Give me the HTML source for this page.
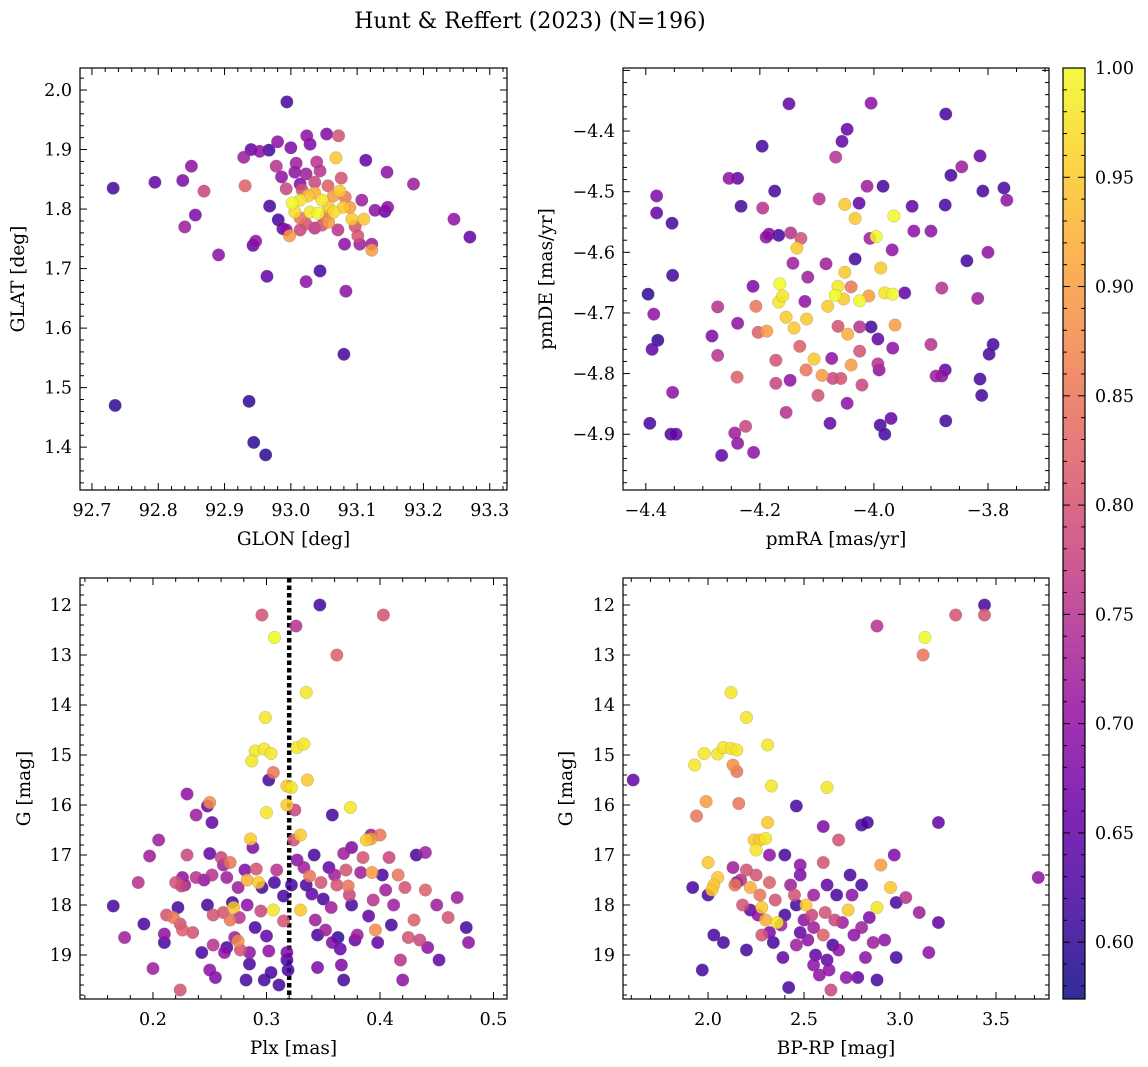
<!DOCTYPE html>
<html><head><meta charset="utf-8">
<style>
html,body{margin:0;padding:0;background:#fff;}
svg{display:block;font-family:"DejaVu Serif","Liberation Serif",serif;}
</style></head>
<body>
<svg id="fig" width="1148" height="1067" viewBox="0 0 1148 1067" xmlns="http://www.w3.org/2000/svg">
<text x="530" y="28" font-size="22" text-anchor="middle">Hunt &amp; Reffert (2023) (N=196)</text>
</svg>
<script>
// ---------- DATA ----------
const glonVals=[92.735,92.937,92.944,92.962,93.080,92.994,92.732,92.795,92.837,92.850,92.856,92.840,92.869,92.891,92.929,92.940,92.953,92.967,92.980,93.000,93.024,93.029,93.054,93.072,93.068,93.039,93.113,93.145,93.185,93.246,93.270,92.931,92.947,92.943,92.964,93.023,93.044,93.083,93.081,93.104,93.122,93.122,93.101,92.968,92.988,92.998,93.110,93.092,93.127,93.142,93.146,93.107,92.978,92.986,93.008,92.993,93.014,93.044,93.076,93.064,93.074,93.002,93.014,93.026,93.036,93.047,93.057,93.029,93.041,93.053,93.065,93.079,93.014,93.023,93.036,93.047,93.057,93.006,93.017,93.089,93.082,93.071,93.014,92.993,92.981,93.097,93.056,93.036,93.023,93.006];
const glatVals=[1.470,1.477,1.408,1.387,1.556,1.980,1.835,1.845,1.848,1.872,1.790,1.770,1.830,1.723,1.887,1.900,1.897,1.899,1.913,1.903,1.923,1.909,1.926,1.923,1.886,1.879,1.882,1.862,1.842,1.783,1.753,1.839,1.746,1.739,1.687,1.678,1.696,1.662,1.741,1.741,1.741,1.731,1.755,1.805,1.767,1.755,1.783,1.783,1.798,1.796,1.803,1.815,1.872,1.854,1.877,1.834,1.842,1.864,1.852,1.822,1.830,1.810,1.815,1.822,1.827,1.815,1.803,1.795,1.793,1.788,1.795,1.803,1.785,1.775,1.768,1.773,1.778,1.795,1.832,1.803,1.820,1.765,1.765,1.765,1.782,1.771,1.839,1.845,1.859,1.862];
const prob1=[.60,.60,.60,.60,.62,.62,.62,.65,.68,.70,.68,.72,.78,.70,.72,.65,.70,.62,.70,.68,.70,.68,.68,.80,.95,.75,.65,.70,.72,.70,.65,.82,.70,.65,.65,.70,.62,.70,.70,.72,.72,.90,.80,.62,.65,.90,.95,.95,.70,.65,.70,.72,.75,.70,.72,.78,.68,.75,.80,.90,.95,1.0,.98,.95,.92,.98,.95,.98,1.0,.85,.97,.95,.85,.80,.75,.80,.90,.97,.80,.90,.85,.75,.78,.70,.62,.80,.82,.78,.72,.70];

const pmraVals=[-4.379,-4.396,-4.393,-4.389,-4.386,-4.381,-4.381,-4.354,-4.353,-4.353,-4.356,-4.347,-4.284,-4.274,-4.274,-4.267,-4.254,-4.239,-4.244,-4.239,-4.225,-4.211,-4.240,-4.239,-4.233,-4.196,-4.149,-4.174,-4.195,-4.189,-4.184,-4.167,-4.212,-4.207,-4.203,-4.188,-4.167,-4.165,-4.160,-4.172,-4.172,-4.154,-4.147,-4.154,-4.140,-4.146,-4.135,-4.142,-4.128,-4.116,-4.121,-4.130,-4.119,-4.118,-4.096,-4.084,-4.074,-4.072,-4.077,-4.091,-4.105,-4.098,-4.081,-4.068,-4.063,-4.067,-4.056,-4.047,-4.051,-4.033,-4.026,-4.033,-4.051,-4.040,-4.053,-4.063,-4.046,-4.040,-4.058,-4.047,-4.021,-4.025,-4.025,-4.025,-4.009,-4.007,-3.996,-4.012,-4.005,-3.984,-3.988,-3.981,-4.005,-3.993,-3.993,-3.991,-3.989,-3.981,-3.965,-3.968,-3.967,-3.963,-3.967,-3.970,-3.946,-3.933,-3.930,-3.900,-3.900,-3.891,-3.881,-3.881,-3.875,-3.875,-3.874,-3.874,-3.865,-3.846,-3.837,-3.818,-3.814,-3.814,-3.811,-3.809,-3.800,-3.791,-3.798,-3.772,-3.767];
const pmdeVals=[-4.745,-4.669,-4.882,-4.760,-4.702,-4.507,-4.535,-4.552,-4.638,-4.831,-4.900,-4.900,-4.738,-4.690,-4.770,-4.935,-4.478,-4.478,-4.898,-4.915,-4.887,-4.930,-4.806,-4.717,-4.524,-4.425,-4.355,-4.499,-4.527,-4.575,-4.570,-4.572,-4.656,-4.689,-4.732,-4.730,-4.682,-4.652,-4.672,-4.778,-4.816,-4.864,-4.811,-4.707,-4.725,-4.568,-4.593,-4.618,-4.577,-4.641,-4.681,-4.755,-4.794,-4.710,-4.512,-4.619,-4.775,-4.808,-4.882,-4.803,-4.776,-4.836,-4.689,-4.671,-4.656,-4.443,-4.417,-4.397,-4.521,-4.544,-4.519,-4.611,-4.633,-4.657,-4.677,-4.722,-4.735,-4.786,-4.808,-4.849,-4.819,-4.763,-4.723,-4.680,-4.672,-4.577,-4.574,-4.491,-4.354,-4.491,-4.626,-4.667,-4.723,-4.743,-4.784,-4.794,-4.885,-4.900,-4.540,-4.596,-4.669,-4.720,-4.758,-4.874,-4.667,-4.524,-4.565,-4.565,-4.752,-4.804,-4.804,-4.659,-4.522,-4.794,-4.878,-4.372,-4.473,-4.459,-4.614,-4.676,-4.441,-4.809,-4.836,-4.499,-4.600,-4.752,-4.768,-4.494,-4.514];
const prob2=[.60,.60,.62,.65,.70,.68,.65,.62,.62,.70,.62,.65,.68,.75,.75,.65,.70,.65,.72,.70,.78,.70,.82,.70,.62,.62,.65,.62,.75,.70,.68,.62,.68,.85,.82,.90,.98,1.0,.98,.80,.78,.75,.70,.95,.95,.75,.95,.72,.80,.72,.70,.82,.85,.95,.75,.72,.70,.78,.65,.90,.95,.80,.95,1.0,.98,.75,.65,.65,.95,.95,.65,.62,.95,.85,.95,.80,.92,.90,.80,.70,.78,.80,.75,1.0,.90,.72,1.0,.72,.70,.62,.95,.98,.62,.65,.75,.70,.62,.62,1.0,.70,1.0,.90,.70,.65,.65,.65,.70,.70,.75,.72,.70,.75,.62,.65,.62,.62,.62,.72,.62,.72,.65,.62,.62,.62,.70,.62,.62,.62,.70];

const plxVals=[0.296,0.307,0.326,0.347,0.362,0.403,0.335,0.299,0.290,0.298,0.304,0.287,0.327,0.333,0.318,0.322,0.336,0.302,0.306,0.300,0.250,0.358,0.374,0.318,0.330,0.325,0.230,0.252,0.248,0.238,0.205,0.197,0.187,0.165,0.175,0.192,0.200,0.210,0.210,0.212,0.218,0.220,0.225,0.226,0.228,0.222,0.224,0.226,0.224,0.230,0.238,0.245,0.248,0.250,0.252,0.253,0.253,0.250,0.255,0.243,0.260,0.262,0.262,0.265,0.268,0.268,0.270,0.271,0.272,0.275,0.275,0.276,0.277,0.281,0.283,0.283,0.285,0.285,0.286,0.288,0.291,0.293,0.295,0.296,0.298,0.300,0.302,0.304,0.306,0.307,0.309,0.311,0.315,0.315,0.318,0.319,0.318,0.322,0.324,0.327,0.330,0.333,0.335,0.338,0.340,0.342,0.343,0.345,0.345,0.348,0.350,0.352,0.355,0.357,0.358,0.360,0.362,0.363,0.365,0.366,0.368,0.370,0.372,0.373,0.375,0.378,0.380,0.383,0.385,0.388,0.390,0.392,0.393,0.394,0.396,0.398,0.400,0.402,0.405,0.408,0.410,0.412,0.416,0.418,0.420,0.422,0.425,0.430,0.432,0.435,0.440,0.442,0.450,0.452,0.460,0.468,0.476,0.478,0.440,0.392,0.375,0.368,0.265,0.282,0.290,0.263,0.235];
const gPlxVals=[12.2,12.65,12.42,12.0,13.0,12.2,13.75,14.25,14.92,14.88,14.97,15.12,14.85,14.78,15.62,15.65,15.5,15.5,15.35,16.15,15.95,16.2,16.05,16.0,16.6,16.1,15.78,16.35,16.02,16.2,16.7,17.02,17.55,18.02,18.65,18.38,19.27,18.58,18.75,18.2,18.25,17.55,17.62,17.45,17.6,18.05,18.38,18.5,19.7,17.0,17.45,17.5,18.0,16.97,17.4,18.2,18.8,19.3,19.45,18.95,17.05,17.2,18.15,17.45,17.15,18.3,17.95,18.05,18.65,18.72,17.65,18.25,18.9,17.3,17.5,18.0,18.95,19.18,16.68,16.85,17.28,17.55,18.12,17.65,19.5,18.62,18.92,19.35,18.1,17.55,17.3,19.6,17.82,18.32,18.95,19.3,19.1,17.6,16.7,17.1,18.1,17.25,17.6,17.42,17.78,17.0,18.3,18.6,19.25,17.55,17.88,18.5,17.25,18.05,18.75,17.4,17.6,18.65,18.88,19.2,19.5,17.3,17.62,17.8,18.0,18.7,18.6,17.35,17.05,16.7,18.22,16.68,17.35,17.9,18.5,18.75,16.6,17.4,17.7,17.05,18.4,18.0,17.4,19.1,19.5,17.65,18.65,18.3,17.0,18.7,17.7,18.85,18.0,19.1,18.25,17.85,18.45,18.75,16.95,16.6,16.85,16.97,18.85,19.5,18.45,18.95,18.55];
const prob3=[.80,1.0,.75,.62,.82,.80,.98,.98,.98,.98,.98,.98,.98,.98,.95,.98,.95,.62,.85,.98,.88,.62,.98,.95,.95,.78,.70,.65,.65,.72,.72,.72,.75,.62,.72,.62,.72,.70,.62,.80,.85,.80,.78,.70,.72,.62,.80,.82,.80,.78,.75,.70,.62,.65,.75,.80,.75,.70,.68,.62,.78,.72,.80,.72,.85,.85,.62,.95,.72,.88,.72,.75,.80,.68,.92,.70,.70,.62,.95,.68,.80,.95,.78,.62,.62,.65,.70,.62,.98,.62,.75,.62,.62,.80,.68,.62,.62,.62,.80,.70,.95,.72,.62,.85,.65,.62,.72,.62,.68,.80,.62,.72,.65,.72,.68,.72,.80,.60,.65,.68,.62,.80,.85,.78,.62,.65,.72,.72,.80,.95,.65,.90,.90,.75,.88,.65,.85,.62,.72,.78,.62,.72,.85,.75,.70,.80,.80,.82,.62,.78,.82,.70,.72,.65,.80,.72,.62,.70,.72,.72,.68,.72,.62,.62,.62,.70,.80];

const bprpVals=[3.44,3.44,3.29,3.13,3.12,2.88,2.12,2.20,1.93,1.98,2.05,2.08,2.12,2.15,2.13,2.15,2.31,2.33,2.62,1.61,1.94,1.99,2.16,2.46,2.60,2.80,2.83,3.20,2.97,2.24,2.27,2.30,2.25,2.31,2.32,2.40,2.48,2.60,2.68,2.00,2.05,2.03,1.92,2.00,2.02,2.15,2.13,2.14,2.17,2.20,2.22,2.25,2.27,2.28,2.30,2.32,2.35,2.36,2.18,2.22,2.26,2.28,2.32,2.34,2.38,2.40,2.43,2.45,2.46,2.48,2.50,2.51,2.52,2.54,2.55,2.56,2.58,2.60,2.61,2.62,2.63,2.64,2.65,2.66,2.67,2.68,2.70,2.72,2.73,2.74,2.75,2.76,2.78,2.80,2.82,2.84,2.86,2.88,2.88,2.90,2.92,2.95,2.98,2.98,3.03,3.10,3.15,3.20,3.72,2.08,1.97,2.03,2.39,2.42,2.55,2.46,2.62,2.48,2.55,2.20,2.80];
const gCmdVals=[12.0,12.2,12.2,12.65,13.0,12.42,13.75,14.25,15.2,14.97,14.98,14.85,14.87,14.9,15.2,15.33,14.8,15.62,15.65,15.5,16.22,15.93,15.97,16.02,16.43,16.4,16.35,16.35,17.0,16.7,16.7,16.67,16.9,16.35,17.0,17.0,17.2,17.15,16.7,17.15,17.45,17.6,17.65,17.8,17.7,17.55,17.25,17.6,17.5,17.3,17.65,17.4,17.8,18.05,18.3,17.55,17.9,18.35,18.0,18.1,18.2,18.6,18.55,18.75,18.4,18.2,17.6,17.8,18.0,18.55,18.3,18.0,18.7,18.2,18.45,19.0,19.4,18.6,18.15,19.1,19.3,19.7,18.8,18.3,17.8,18.9,18.35,19.45,18.1,17.4,17.8,18.6,19.45,18.45,19.05,18.25,18.75,18.05,19.5,17.2,18.7,17.65,17.95,19.05,17.85,18.15,18.95,18.35,17.45,18.75,19.3,18.6,19.05,19.65,19.2,18.8,17.6,17.4,17.8,18.9,17.6];
const prob4=[.62,.80,.80,1.0,.85,.75,.98,.98,.98,.98,.98,.98,.98,.98,.88,.85,.98,.98,.98,.65,.85,.90,.85,.62,.68,.62,.62,.65,.68,.95,.95,.98,.98,.95,.70,.62,.70,.80,.80,.95,.95,.95,.62,.62,.95,.65,.72,.85,.75,.80,.92,.80,.85,.95,.92,.82,.80,.98,.80,.65,.70,.80,.68,.62,.72,.62,.72,.80,.62,.65,.70,.95,.70,.78,.72,.65,.70,.82,.80,.65,.70,.78,.62,.78,.62,.70,.72,.70,.95,.62,.70,.70,.65,.72,.70,.68,.72,.98,.62,.90,.70,.95,.62,.62,.75,.72,.70,.65,.70,.62,.62,.62,.65,.62,.70,.72,.65,.68,.72,.62,.62];

const cbTicks=[0.60,0.65,0.70,0.75,0.80,0.85,0.90,0.95,1.00];
const VMIN=0.574, VMAX=1.0;

// ---------- helpers ----------
const NS="http://www.w3.org/2000/svg";
const fig=document.getElementById('fig');
function mk(tag,attrs,parent){const e=document.createElementNS(NS,tag);for(const k in attrs)e.setAttribute(k,attrs[k]);(parent||fig).appendChild(e);return e;}
const stops=[[13,8,135],[65,4,157],[106,0,168],[143,13,164],[177,42,144],[204,71,120],[225,100,98],[242,132,75],[252,166,54],[252,206,37],[240,249,33]];
function plasma(t){t=Math.max(0,Math.min(1,t));const f=t*10,i=Math.min(9,Math.floor(f)),r=f-i;const a=stops[i],b=stops[i+1];return 'rgb('+a.map((v,k)=>Math.round(v+(b[k]-v)*r)).join(',')+')';}
function col(p){return plasma((p-VMIN)/(VMAX-VMIN));}
function fmt(v,d){return (v<0?'\u2212':'')+Math.abs(v).toFixed(d);}
const TF=17.5, LF=18.5;

function panel(cfg){
  const g=mk('g',{});
  
  
  const {L,R,T,B,xr,yr}=cfg;
  const sx=v=>L+(v-xr[0])/(xr[1]-xr[0])*(R-L);
  const sy=v=>cfg.invert? T+(v-yr[0])/(yr[1]-yr[0])*(B-T) : B-(v-yr[0])/(yr[1]-yr[0])*(B-T);
  const clip='clip-'+cfg.name;
  const cp=mk('clipPath',{id:clip},g);mk('rect',{x:L,y:T,width:R-L,height:B-T},cp);
  if(cfg.vline!==undefined){
    const ln=mk('line',{x1:sx(cfg.vline),x2:sx(cfg.vline),y1:T,y2:B,stroke:'#000','stroke-width':4.5,'stroke-dasharray':'4.5,3'},g);
    
    
  }
  const pts=mk('g',{'clip-path':'url(#'+clip+')'},g);
  
  
  const n=Math.min(cfg.xs.length,cfg.ys.length,cfg.ps.length);
  const order=[...Array(n).keys()].sort((a,b)=>cfg.ps[a]-cfg.ps[b]);
  for(const i of order){
    const c=mk('circle',{cx:sx(cfg.xs[i]),cy:sy(cfg.ys[i]),r:6.3,fill:col(cfg.ps[i]),'fill-opacity':0.85,stroke:'#777','stroke-width':0.4,'stroke-opacity':0.6},pts);
    
    
  }
  const fr=mk('rect',{x:L,y:T,width:R-L,height:B-T,fill:'none',stroke:'#000','stroke-width':1.2},g);
  
  
  const xstep=cfg.xt[2], xmin=xstep/cfg.xminor;
  for(let v=Math.ceil(xr[0]/xmin-1e-6)*xmin; v<=xr[1]+1e-9; v+=xmin){
    const X=sx(v);const major=Math.abs(v/xstep-Math.round(v/xstep))<1e-4;const len=major?7:4;
    mk('line',{x1:X,x2:X,y1:B,y2:B-len,stroke:'#000','stroke-width':1},g);
    mk('line',{x1:X,x2:X,y1:T,y2:T+len,stroke:'#000','stroke-width':1},g);
  }
  for(let v=cfg.xt[0]; v<=cfg.xt[1]+1e-9; v+=xstep){
    const t=mk('text',{x:sx(v),y:B+26,'font-size':TF,'text-anchor':'middle'},g);t.textContent=fmt(v,cfg.xd);
    
    
  }
  const ystep=cfg.yt[2], ymin=ystep/cfg.yminor;
  for(let v=Math.ceil(yr[0]/ymin-1e-6)*ymin; v<=yr[1]+1e-9; v+=ymin){
    const Y=sy(v);const major=Math.abs(v/ystep-Math.round(v/ystep))<1e-4;const len=major?7:4;
    mk('line',{x1:L,x2:L+len,y1:Y,y2:Y,stroke:'#000','stroke-width':1},g);
    mk('line',{x1:R,x2:R-len,y1:Y,y2:Y,stroke:'#000','stroke-width':1},g);
  }
  for(let v=cfg.yt[0]; v<=cfg.yt[1]+1e-9; v+=ystep){
    const t=mk('text',{x:L-8,y:sy(v)+6,'font-size':TF,'text-anchor':'end'},g);t.textContent=fmt(v,cfg.yd);
    
    
  }
  const xl=mk('text',{x:(L+R)/2,y:B+55,'font-size':LF,'text-anchor':'middle'},g);xl.textContent=cfg.xlabel;
  
  
  const yx=cfg.ylx, yy=(T+B)/2;
  const yl=mk('text',{x:yx,y:yy,'font-size':LF,'text-anchor':'middle',transform:'rotate(-90 '+yx+' '+yy+')'},g);yl.textContent=cfg.ylabel;
  
  
}

panel({name:'glon-glat-panel',L:80,R:507,T:68,B:490,xr:[92.682,93.326],yr:[1.328,2.037],xs:glonVals,ys:glatVals,ps:prob1,xt:[92.7,93.3,0.1],xd:1,xminor:5,yt:[1.4,2.0,0.1],yd:1,yminor:5,xlabel:'GLON [deg]',ylabel:'GLAT [deg]',ylx:24});
panel({name:'proper-motion-panel',L:623,R:1049,T:68,B:490,xr:[-4.440,-3.693],yr:[-4.992,-4.296],xs:pmraVals,ys:pmdeVals,ps:prob2,xt:[-4.4,-3.8,0.2],xd:1,xminor:4,yt:[-4.9,-4.4,0.1],yd:1,yminor:5,xlabel:'pmRA [mas/yr]',ylabel:'pmDE [mas/yr]',ylx:552});
panel({name:'parallax-magnitude-panel',L:80,R:507,T:578,B:999,xr:[0.1357,0.5119],yr:[11.46,19.88],invert:true,xs:plxVals,ys:gPlxVals,ps:prob3,xt:[0.2,0.5,0.1],xd:1,xminor:5,yt:[12,19,1],yd:0,yminor:5,xlabel:'Plx [mas]',ylabel:'G [mag]',ylx:30,vline:0.32});
panel({name:'color-magnitude-panel',L:623,R:1049,T:578,B:999,xr:[1.557,3.776],yr:[11.46,19.88],invert:true,xs:bprpVals,ys:gCmdVals,ps:prob4,xt:[2.0,3.5,0.5],xd:1,xminor:5,yt:[12,19,1],yd:0,yminor:5,xlabel:'BP-RP [mag]',ylabel:'G [mag]',ylx:572});

// colorbar
(function(){
  const L=1063,R=1085,T=68,B=999;
  const g=mk('g',{});
  
  
  const sy=v=>B-(v-VMIN)/(VMAX-VMIN)*(B-T);
  const defs=mk('defs',{},g);
  const lg=mk('linearGradient',{id:'cbgrad',x1:0,y1:1,x2:0,y2:0},defs);
  for(let i=0;i<=20;i++){mk('stop',{offset:i/20,'stop-color':plasma(i/20)},lg);}
  mk('rect',{x:L,y:T,width:R-L,height:B-T,fill:'url(#cbgrad)','fill-opacity':0.85},g);
  mk('rect',{x:L,y:T,width:R-L,height:B-T,fill:'none',stroke:'#000','stroke-width':1.2},g);
  for(let v=0.58; v<=1.0001; v+=0.01){
    const Y=sy(v);const major=Math.abs(v*20-Math.round(v*20))<1e-4;const len=major?7:4;
    mk('line',{x1:R,x2:R-len,y1:Y,y2:Y,stroke:'#000','stroke-width':1},g);
    mk('line',{x1:L,x2:L+len,y1:Y,y2:Y,stroke:'#000','stroke-width':1},g);
  }
  for(const v of cbTicks){
    const t=mk('text',{x:R+10,y:sy(v)+6,'font-size':TF},g);t.textContent=v.toFixed(2);
    
    
  }
})();
</script>
</body></html>
